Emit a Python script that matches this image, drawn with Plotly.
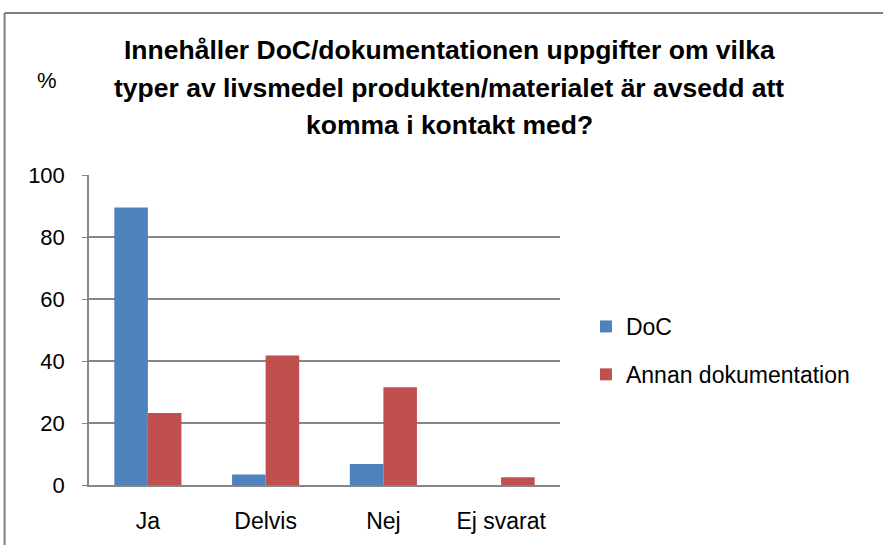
import plotly.graph_objects as go

categories = ["Ja", "Delvis", "Nej", "Ej svarat"]
doc_values = [89.5, 3.4, 6.8, 0]
annan_values = [23.2, 41.8, 31.5, 2.5]
series_names = ["DoC", "Annan dokumentation"]
y_ticks = [0, 20, 40, 60, 80, 100]
title_lines = ["Innehåller DoC/dokumentationen uppgifter om vilka",
               "typer av livsmedel produkten/materialet är avsedd att",
               "komma i kontakt med?"]

FONT = "Liberation Sans, Arial"

W, H = 883, 545
L, R, T, B = 88.5, 560, 175, 485

fig = go.Figure()
fig.add_trace(go.Bar(x=categories, y=doc_values, name=series_names[0],
                     marker=dict(color="#4F81BD", line=dict(width=0)), legendgroup="a"))
fig.add_trace(go.Bar(x=categories, y=annan_values, name=series_names[1],
                     marker=dict(color="#C0504D", line=dict(width=0)), legendgroup="b"))

def px(x):
    return (x - L) / (R - L)

def py(y):
    return (B - y) / (B - T)

fig.update_layout(
    width=W, height=H,
    margin=dict(l=L, r=W - R, t=T, b=H - B, pad=0),
    paper_bgcolor="white", plot_bgcolor="white",
    font=dict(family=FONT, size=22, color="black"),
    barmode="group", bargap=0.43, bargroupgap=0,
    showlegend=True,
    legend=dict(x=px(586), y=py(305), xanchor="left", yanchor="top",
                font=dict(size=23), tracegroupgap=15, itemwidth=30,
                bgcolor="rgba(0,0,0,0)"),
    xaxis=dict(showgrid=False, showline=True, linecolor="#868686", linewidth=1.5,
               ticks="", tickfont=dict(size=23), ticklabelstandoff=15),
    yaxis=dict(range=[0, 100], tickvals=y_ticks, showgrid=True, gridcolor="#868686",
               gridwidth=1.5, showline=True, linecolor="#868686", linewidth=1.5,
               ticks="outside", ticklen=5, tickcolor="#868686",
               tickfont=dict(size=22), zeroline=False, ticklabelstandoff=13),
)

for line_text, yy in zip(title_lines, [50, 88, 125]):
    fig.add_annotation(
        text="<b>" + line_text + "</b>",
        x=px(449), y=py(yy), xref="paper", yref="paper", showarrow=False,
        xanchor="center", yanchor="middle", align="center",
        font=dict(family=FONT, size=26.5, color="black"))
fig.add_annotation(text="%", x=px(46), y=py(80), xref="paper", yref="paper",
                   showarrow=False, xanchor="center", yanchor="middle",
                   font=dict(family=FONT, size=22, color="black"))

# chart area border (top and left edges)
fig.add_shape(type="line", xref="paper", yref="paper", x0=px(4), x1=px(890), y0=py(13), y1=py(13),
              line=dict(color="#808080", width=2))
fig.add_shape(type="line", xref="paper", yref="paper", x0=px(4), x1=px(4), y0=py(13), y1=py(560),
              line=dict(color="#808080", width=2))

fig.write_html("out.html", config={"displayModeBar": False},
               post_script="document.body.style.margin='0px';document.body.style.overflow='hidden';")
